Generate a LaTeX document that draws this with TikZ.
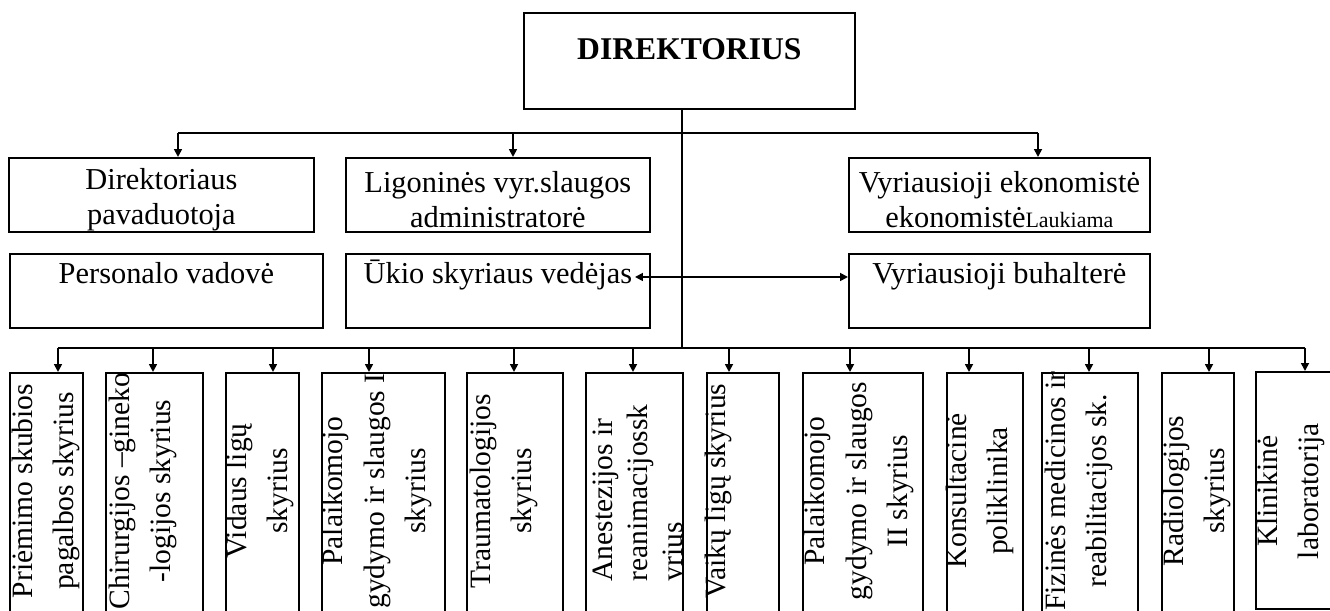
\documentclass[tikz,border=0pt]{standalone}
\usepackage{fontspec}
\setmainfont{Liberation Serif}
\usetikzlibrary{arrows.meta}

\newcommand{\topgap}{\rule{0pt}{17.5pt}}

\tikzset{
  box/.style={draw, line width=1pt, inner sep=0pt, anchor=north west, font=\fontsize{17.3}{19.5}\selectfont},
  dept/.style={draw, line width=1pt, inner sep=0pt, anchor=north west, minimum height=5.36cm},
  vtext/.style={rotate=90, align=center, inner sep=0pt, font=\fontsize{16.8}{23.5}\selectfont},
  link/.style={line width=1pt},
  arr/.style={line width=1pt, -{Triangle[length=4.5pt, width=4.5pt]}},
  dblarr/.style={line width=1pt, {Triangle[length=4.5pt, width=4.5pt]}-{Triangle[length=4.5pt, width=4.5pt]}}
}

\begin{document}
\begin{tikzpicture}
    \useasboundingbox (0,0) rectangle (26.6,-12.22);
    \clip (0,0) rectangle (26.6,-12.22);

    % Director
    \node[box, minimum width=6.62cm, text height=0.94cm, text depth=0.98cm,
          font=\bfseries\fontsize{18}{21}\selectfont] (dir) at (10.46,-0.24) {DIREKTORIUS};

    % First row
    \node[box, align=center, minimum width=6.10cm, minimum height=1.48cm] (pav) at (0.16,-3.14) {\topgap Direktoriaus\\pavaduotoja};
    \node[box, align=center, minimum width=6.08cm, minimum height=1.48cm] (slaug) at (6.90,-3.14) {\topgap Ligoninės vyr.slaugos\\administratorė};
    \node[box, align=center, minimum width=6.02cm, minimum height=1.48cm] (ekon) at (16.96,-3.14) {\topgap Vyriausioji ekonomistė\\ekonomistė{\fontsize{12.5}{13}\selectfont Laukiama}};

    % Second row
    \node[box, minimum width=6.26cm, text height=0.6cm, text depth=0.88cm] (pers) at (0.18,-5.06) {Personalo vadovė};
    \node[box, minimum width=6.08cm, text height=0.6cm, text depth=0.88cm] (ukio) at (6.90,-5.06) {Ūkio skyriaus vedėjas};
    \node[box, minimum width=6.02cm, text height=0.6cm, text depth=0.88cm] (buh) at (16.96,-5.06) {Vyriausioji buhalterė};

    % Trunk
    \coordinate (top) at (13.64,-2.66);
    \coordinate (low) at (13.64,-6.96);
    \draw[link] (dir.south -| top) -- (low);

    % Upper bus
    \coordinate (a1) at (3.56,-2.66);
    \coordinate (a2) at (10.26,-2.66);
    \coordinate (a3) at (20.76,-2.66);
    \draw[link] (a1) -- (a3);
    \draw[arr] (a1) -- (a1 |- pav.north);
    \draw[arr] (a2) -- (a2 |- slaug.north);
    \draw[arr] (a3) -- (a3 |- ekon.north);

    % Ukio <-> buhalterija
    \coordinate (u1) at (12.70,-5.54);
    \draw[dblarr] (u1) -- (u1 -| buh.west);

    % Departments
    \node[dept, minimum width=1.46cm] (b1) at (0.18,-7.44) {};
    \node[dept, minimum width=1.94cm] (b2) at (2.10,-7.44) {};
    \node[dept, minimum width=1.46cm] (b3) at (4.50,-7.44) {};
    \node[dept, minimum width=2.46cm] (b4) at (6.42,-7.44) {};
    \node[dept, minimum width=1.92cm] (b5) at (9.32,-7.44) {};
    \node[dept, minimum width=1.94cm] (b6) at (11.70,-7.44) {};
    \node[dept, minimum width=1.44cm] (b7) at (14.12,-7.44) {};
    \node[dept, minimum width=2.40cm] (b8) at (16.04,-7.44) {};
    \node[dept, minimum width=1.52cm] (b9) at (18.92,-7.44) {};
    \node[dept, minimum width=1.92cm] (b10) at (20.82,-7.44) {};
    \node[dept, minimum width=1.44cm] (b11) at (23.22,-7.44) {};
    \node[dept, minimum width=1.80cm, minimum height=4.74cm] (b12) at (25.10,-7.42) {};

    % Department names
    \node[vtext] (t1) at (0.92,-9.82) {Priėmimo skubios\\pagalbos skyrius};
    \node[vtext] (t2) at (2.86,-9.82) {Chirurgijos –gineko\\-logijos skyrius};
    \node[vtext] (t3) at (5.20,-9.82) {Vidaus ligų\\skyrius};
    \node[vtext] (t4) at (7.54,-9.82) {Palaikomojo\\gydymo ir slaugos I\\skyrius};
    \node[vtext] (t5) at (10.08,-9.82) {Traumatologijos\\skyrius};
    \begin{scope}
      \clip (b6.north west) rectangle (b6.south east);
      \node[vtext, align=left, font=\fontsize{16.8}{20}\selectfont] (t6) at (12.82,-9.86) {Anestezijos ir\\reanimacijossk\\yrius};
    \end{scope}
    \node[vtext] (t7) at (14.36,-9.82) {Vaikų ligų skyrius};
    \node[vtext] (t8) at (17.18,-9.82) {Palaikomojo\\gydymo ir slaugos\\II skyrius};
    \node[vtext] (t9) at (19.60,-9.82) {Konsultacinė\\poliklinika};
    \node[vtext] (t10) at (21.58,-9.82) {Fizinės medicinos ir\\reabilitacijos sk.};
    \node[vtext] (t11) at (23.94,-9.82) {Radiologijos\\skyrius};
    \node[vtext] (t12) at (25.82,-9.82) {Klinikinė\\laboratorija};

    % Lower bus
    \coordinate (d1) at (1.16,-6.96);
    \coordinate (d2) at (3.06,-6.96);
    \coordinate (d3) at (5.46,-6.96);
    \coordinate (d4) at (7.38,-6.96);
    \coordinate (d5) at (10.28,-6.96);
    \coordinate (d6) at (12.66,-6.96);
    \coordinate (d7) at (14.58,-6.96);
    \coordinate (d8) at (17.00,-6.96);
    \coordinate (d9) at (19.38,-6.96);
    \coordinate (d10) at (21.78,-6.96);
    \coordinate (d11) at (24.18,-6.96);
    \coordinate (d12) at (26.10,-6.96);
    \draw[link] (d1) -- (d12);
    \draw[arr] (d1) -- (d1 |- b1.north);
    \draw[arr] (d2) -- (d2 |- b2.north);
    \draw[arr] (d3) -- (d3 |- b3.north);
    \draw[arr] (d4) -- (d4 |- b4.north);
    \draw[arr] (d5) -- (d5 |- b5.north);
    \draw[arr] (d6) -- (d6 |- b6.north);
    \draw[arr] (d7) -- (d7 |- b7.north);
    \draw[arr] (d8) -- (d8 |- b8.north);
    \draw[arr] (d9) -- (d9 |- b9.north);
    \draw[arr] (d10) -- (d10 |- b10.north);
    \draw[arr] (d11) -- (d11 |- b11.north);
    \draw[arr] (d12) -- (d12 |- b12.north);
\end{tikzpicture}
\end{document}
